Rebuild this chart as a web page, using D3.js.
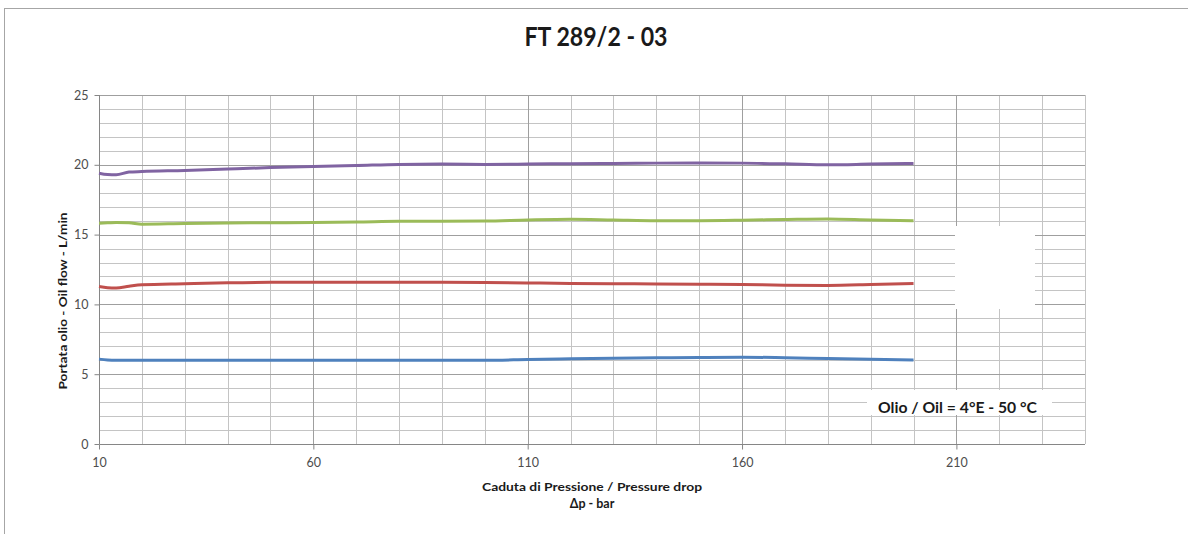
<!DOCTYPE html>
<html>
<head>
<meta charset="utf-8">
<script src="https://cdn.jsdelivr.net/npm/d3@7"></script>
<style>
  html, body { margin: 0; padding: 0; background: #fff; }
  svg { display: block; font-family: Lato, "Open Sans", sans-serif; }
</style>
</head>
<body>
<svg id="chart" width="1188" height="534"></svg>
<script>
// ---- data ----
const title = "FT 289/2 - 03";
const xTitle1 = "Caduta di Pressione / Pressure drop";
const xTitle2 = "Δp - bar";
const yTitle = "Portata olio - Oil flow - L/min";
const note = "Olio / Oil = 4°E - 50 °C";

const xTickLabels = [10, 60, 110, 160, 210];
const yTickLabels = [0, 5, 10, 15, 20, 25];

const pressure = [10, 12, 14, 17, 20, 30, 40, 50, 60, 70, 80, 90, 100, 110, 120, 130, 140, 150, 160, 170, 180, 190, 200];
const flowPurple = [19.40, 19.30, 19.28, 19.48, 19.52, 19.60, 19.70, 19.80, 19.88, 19.95, 20.03, 20.05, 20.03, 20.05, 20.08, 20.10, 20.12, 20.13, 20.12, 20.07, 20.00, 20.05, 20.10];
const flowGreen  = [15.82, 15.84, 15.87, 15.85, 15.75, 15.80, 15.83, 15.85, 15.87, 15.90, 15.95, 15.96, 15.97, 16.05, 16.10, 16.05, 16.00, 16.00, 16.03, 16.08, 16.12, 16.05, 16.00];
const flowRed    = [11.28, 11.20, 11.18, 11.30, 11.40, 11.48, 11.55, 11.58, 11.58, 11.58, 11.58, 11.58, 11.57, 11.54, 11.50, 11.48, 11.47, 11.45, 11.42, 11.38, 11.36, 11.42, 11.50];
const flowBlue   = [6.08, 6.02, 6.00, 6.00, 6.00, 6.00, 6.00, 6.00, 6.00, 6.00, 6.00, 6.00, 6.00, 6.05, 6.10, 6.14, 6.17, 6.20, 6.22, 6.18, 6.12, 6.07, 6.02];

const seriesNames = ["blue", "red", "green", "purple"];
const seriesValues = [flowBlue, flowRed, flowGreen, flowPurple];
const seriesColors = ["#4F81BD", "#C0504D", "#9BBB59", "#8064A2"];

// ---- layout ----
const svg = d3.select("#chart");
const x = d3.scaleLinear().domain([10, 240]).range([99, 1085]);
const y = d3.scaleLinear().domain([0, 25]).range([444, 95]);

// outer chart border
svg.append("rect").attr("x", 4.5).attr("y", 8.5).attr("width", 1200).attr("height", 540)
  .attr("fill", "#fff").attr("stroke", "#a6a6a6").attr("stroke-width", 1);

// title
svg.append("text").attr("x", 596).attr("y", 46).attr("text-anchor", "middle")
  .attr("font-size", 26).attr("font-weight", "bold").attr("fill", "#1a1a1a")
  .attr("textLength", 143).attr("lengthAdjust", "spacingAndGlyphs").text(title);

const g = svg.append("g");

// grid
const xMinor = d3.range(20, 241, 10).filter(v => (v - 10) % 50 !== 0);
const xMajor = d3.range(60, 241, 50);
const yMinor = d3.range(1, 25, 1).filter(v => v % 5 !== 0);
const yMajor = d3.range(5, 26, 5);

g.selectAll(".ymin").data(yMinor).join("line")
  .attr("x1", x(10)).attr("x2", x(240))
  .attr("y1", d => Math.round(y(d)) + 0.5).attr("y2", d => Math.round(y(d)) + 0.5)
  .attr("stroke", "#c4c4c4").attr("stroke-width", 1);
g.selectAll(".xmin").data(xMinor).join("line")
  .attr("x1", d => Math.round(x(d)) + 0.5).attr("x2", d => Math.round(x(d)) + 0.5)
  .attr("y1", y(0)).attr("y2", y(25))
  .attr("stroke", "#c4c4c4").attr("stroke-width", 1);
g.selectAll(".ymaj").data(yMajor).join("line")
  .attr("x1", x(10)).attr("x2", x(240))
  .attr("y1", d => Math.round(y(d)) + 0.5).attr("y2", d => Math.round(y(d)) + 0.5)
  .attr("stroke", "#9f9f9f").attr("stroke-width", 1);
g.selectAll(".xmaj").data(xMajor).join("line")
  .attr("x1", d => Math.round(x(d)) + 0.5).attr("x2", d => Math.round(x(d)) + 0.5)
  .attr("y1", y(0)).attr("y2", y(25))
  .attr("stroke", "#9f9f9f").attr("stroke-width", 1);

// white patch covering grid (as in reference)
g.append("rect").attr("x", 955).attr("y", 226).attr("width", 80).attr("height", 83).attr("fill", "#fff");

// axes
const xAxis = d3.axisBottom(x).tickValues(xTickLabels).tickSize(5).tickPadding(9).tickFormat(d3.format("d"));
const yAxis = d3.axisLeft(y).tickValues(yTickLabels).tickSize(5).tickPadding(6).tickFormat(d3.format("d"));

const gx = svg.append("g").attr("transform", `translate(0,${Math.round(y(0)) + 0.5})`).call(xAxis);
const gy = svg.append("g").attr("transform", `translate(${Math.round(x(10)) + 0.5},0)`).call(yAxis);
[gx, gy].forEach(a => {
  a.select(".domain").attr("stroke", "#868686");
  a.selectAll(".tick line").attr("stroke", "#868686");
  a.selectAll(".tick text").attr("fill", "#4d4d4d").attr("font-size", 12.5)
    .attr("font-family", "Lato, 'Open Sans', sans-serif");
});
gy.select(".domain").attr("d", `M0,${y(25)}V${y(0)}`);
gx.select(".domain").attr("d", `M${Math.round(x(10)) + 0.5},0H${x(240)}`);

// series lines
const line = d3.line().x((d, i) => x(pressure[i])).y(d => y(d)).curve(d3.curveMonotoneX);
seriesValues.forEach((vals, k) => {
  svg.append("path").datum(vals).attr("d", line)
    .attr("fill", "none").attr("stroke", seriesColors[k]).attr("stroke-width", 3)
    .attr("stroke-linejoin", "round").attr("stroke-linecap", "butt");
});

// annotation box
svg.append("rect").attr("x", 867).attr("y", 390).attr("width", 185).attr("height", 25).attr("fill", "#fff");
svg.append("text").attr("x", 957.5).attr("y", 413).attr("text-anchor", "middle")
  .attr("font-size", 16).attr("font-weight", "bold").attr("fill", "#1a1a1a")
  .attr("textLength", 159).attr("lengthAdjust", "spacingAndGlyphs").text(note);

// axis titles
svg.append("text").attr("x", 592).attr("y", 491).attr("text-anchor", "middle")
  .attr("font-size", 12).attr("font-weight", "bold").attr("fill", "#1a1a1a")
  .attr("textLength", 220).attr("lengthAdjust", "spacingAndGlyphs").text(xTitle1);
svg.append("text").attr("x", 592).attr("y", 508).attr("text-anchor", "middle")
  .attr("font-size", 12.5).attr("font-weight", "bold").attr("fill", "#1a1a1a").text(xTitle2);
svg.append("text").attr("transform", "translate(67,301) rotate(-90)").attr("text-anchor", "middle")
  .attr("font-size", 12).attr("font-weight", "bold").attr("fill", "#1a1a1a")
  .attr("textLength", 177).attr("lengthAdjust", "spacingAndGlyphs").text(yTitle);
</script>
</body>
</html>
